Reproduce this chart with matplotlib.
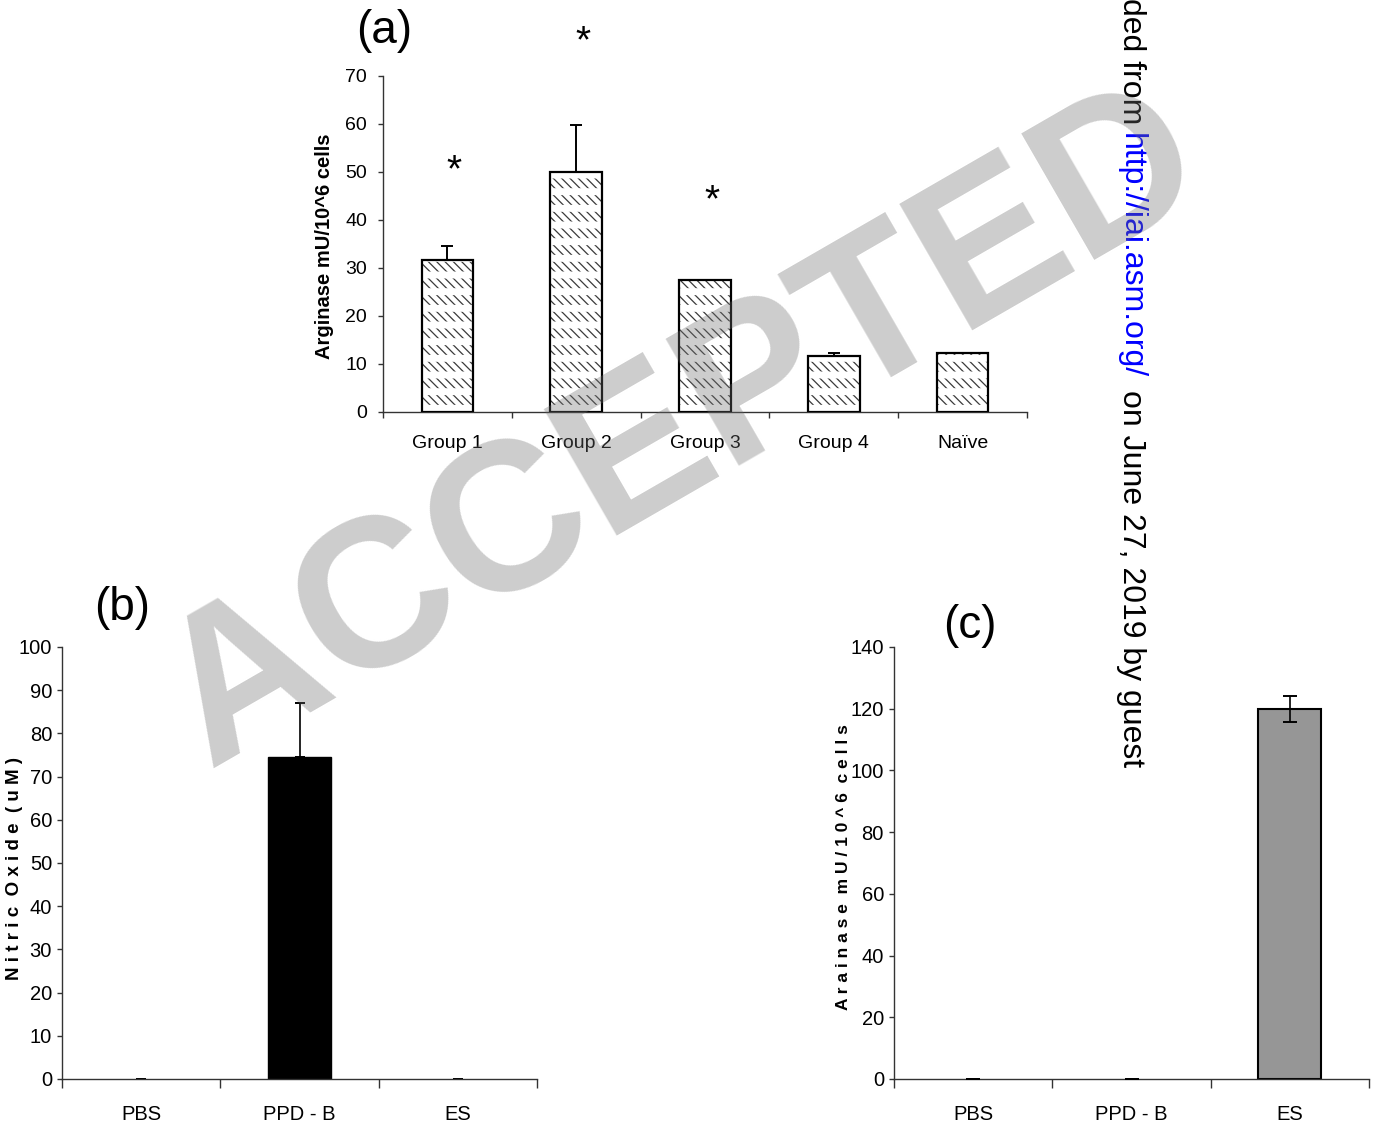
import numpy as np
import matplotlib
matplotlib.use("Agg")
import matplotlib.pyplot as plt
from matplotlib.transforms import ScaledTranslation

# ---------------- data ----------------
groups_a = ["Group 1", "Group 2", "Group 3", "Group 4", "Naïve"]
arginase_a = [31.7, 50.0, 27.4, 11.6, 12.2]
err_a = [2.9, 9.7, 0.0, 0.6, 0.1]
star_a = [52.0, 78.8, 45.6, None, None]

treat = ["PBS", "PPD - B", "ES"]
nitric_b = [0.0, 74.6, 0.0]
err_b = [0.0, 12.4, 0.0]
arginase_c = [0.0, 0.0, 120.0]
err_c = [0.0, 0.0, 4.2]

ylabel_a = "Arginase mU/10^6 cells"
ylabel_b = "N i t r i c  O x i d e  ( u M )"
ylabel_c = "A r a i n a s e  m U / 1 0 ^ 6  c e l l s"

# ---------------- figure ----------------
W, H = 1374, 1135
fig = plt.figure(figsize=(W / 100, H / 100), dpi=100)

SANS = ["Liberation Sans", "DejaVu Sans"]
NARROW = ["Liberation Sans Narrow", "Liberation Sans", "DejaVu Sans"]
AXC = "#333333"


def box(l, t, r, b):
    return [l / W, 1 - b / H, (r - l) / W, (b - t) / H]


def fx(x):
    return x / W


def fy(y):
    return 1 - y / H


def style(ax, labels, ymax, ystep, fam, tickfs, xtl, xpad, ytl, ypad):
    n = len(labels)
    for s in ["top", "right"]:
        ax.spines[s].set_visible(False)
    for s in ["left", "bottom"]:
        ax.spines[s].set_linewidth(1.0)
        ax.spines[s].set_color(AXC)
    ax.set_xlim(-0.5, n - 0.5)
    ax.set_ylim(0, ymax)
    ax.set_yticks(np.arange(0, ymax + 1, ystep))
    ax.set_xticks(np.arange(n + 1) - 0.5)
    ax.set_xticklabels([])
    ax.set_xticks(np.arange(n), minor=True)
    ax.set_xticklabels(labels, minor=True, fontfamily=fam, fontsize=tickfs)
    for t in ax.get_yticklabels():
        t.set_fontfamily(fam)
        t.set_fontsize(tickfs)
    ax.tick_params(axis="x", which="major", direction="out", length=xtl, width=1, color=AXC)
    ax.tick_params(axis="x", which="minor", length=0, pad=xpad)
    ax.tick_params(axis="y", direction="out", length=ytl, width=1, color=AXC, pad=ypad)
    ax.patch.set_alpha(0)


def hatched_bars(ax, x, h, w, hatch, color, hlw, z):
    with plt.rc_context({"hatch.linewidth": hlw, "hatch.color": color}):
        bars = ax.bar(x, h, w, fill=False, edgecolor=color, linewidth=0,
                      hatch=hatch, zorder=z)
    for p in bars:
        if hasattr(p, "set_hatch_linewidth"):
            p.set_hatch_linewidth(hlw)
        elif hasattr(p, "_hatch_linewidth"):
            p._hatch_linewidth = hlw
    return bars


# ---------------- panel (a) ----------------
ax_a = fig.add_axes(box(383, 76, 1027, 412))
xa = np.arange(len(groups_a))
bw = 0.40
ax_a.bar(xa, arginase_a, bw, facecolor="white", linewidth=0, zorder=1.5)
hatched_bars(ax_a, xa, arginase_a, bw, "\\\\\\\\", "#3a3a3a", 0.9, 2)
hatched_bars(ax_a, xa, arginase_a, bw, "-", "white", 5.0, 2.5)
ax_a.bar(xa, arginase_a, bw, fill=False, edgecolor="black", linewidth=1.6, zorder=3)
ax_a.errorbar(xa, arginase_a, yerr=[np.zeros(len(xa)), err_a], fmt="none",
              ecolor="black", elinewidth=1.4, capsize=4.5, capthick=1.4, zorder=1)
style(ax_a, groups_a, 70, 10, SANS, 14, 4.3, 16.5, 3.6, 8)

star_fs = 28
star_tr = ax_a.transData + ScaledTranslation(0.07, -0.58 * star_fs / 72 + 0.04,
                                             fig.dpi_scale_trans)
for i, s in enumerate(star_a):
    if s is not None:
        ax_a.text(xa[i], s, "*", ha="center", va="baseline", fontsize=star_fs,
                  fontfamily=SANS, transform=star_tr, clip_on=False, zorder=5)

fig.text(fx(325), fy(246), ylabel_a, rotation=90, ha="center", va="center",
         fontsize=14.5, fontweight="bold", fontfamily=SANS)
fig.text(fx(384), fy(43), "(a)", ha="center", va="baseline", fontsize=33, fontfamily=SANS)

# ---------------- panel (b) ----------------
ax_b = fig.add_axes(box(62, 647, 537, 1079))
xb = np.arange(len(treat))
ax_b.bar(xb, nitric_b, bw, color="black", edgecolor="black",
         linewidth=[1.0 if v > 0 else 0 for v in nitric_b], zorder=2)
ax_b.errorbar(xb, nitric_b, yerr=[np.zeros(len(xb)), err_b], fmt="none",
              ecolor="black", elinewidth=1.2, capsize=3.6, capthick=1.4, zorder=1)
style(ax_b, treat, 100, 10, NARROW, 14.5, 6.4, 19, 3.6, 3.6)
fig.text(fx(15), fy(868), ylabel_b, rotation=90, ha="center", va="center",
         fontsize=13.5, fontweight="bold", fontfamily=NARROW)
fig.text(fx(122), fy(620), "(b)", ha="center", va="baseline", fontsize=33, fontfamily=SANS)

# ---------------- panel (c) ----------------
ax_c = fig.add_axes(box(894, 647, 1369, 1079))
ax_c.bar(xb, arginase_c, bw, color="#969696", edgecolor="black",
         linewidth=[1.5 if v > 0 else 0 for v in arginase_c], zorder=2)
ax_c.errorbar(xb, arginase_c, yerr=err_c, fmt="none",
              ecolor="black", elinewidth=1.2, capsize=4.7, capthick=1.4, zorder=3)
style(ax_c, treat, 140, 20, NARROW, 14.5, 6.4, 19, 3.6, 3.6)
fig.text(fx(843), fy(867), ylabel_c, rotation=90, ha="center", va="center",
         fontsize=12.5, fontweight="bold", fontfamily=NARROW)
fig.text(fx(970), fy(638), "(c)", ha="center", va="baseline", fontsize=33, fontfamily=SANS)

# ---------------- side note ----------------
side_fs = 23
fig.text(fx(1123), fy(-2), "ded from ", rotation=-90, rotation_mode="anchor",
         ha="left", va="baseline", fontsize=side_fs, fontfamily=SANS, color="black")
fig.text(fx(1123), fy(133), "http://iai.asm.org/", rotation=-90, rotation_mode="anchor",
         ha="left", va="baseline", fontsize=side_fs, fontfamily=SANS, color="#0000ff")
fig.text(fx(1123), fy(390), "on June 27, 2019 by guest", rotation=-90, rotation_mode="anchor",
         ha="left", va="baseline", fontsize=side_fs, fontfamily=SANS, color="black")

# ---------------- watermark ----------------
fig.text(fx(712), fy(478), "ACCEPTED", rotation=30, rotation_mode="anchor",
         ha="center", va="baseline", fontsize=152, fontweight="bold", fontfamily=SANS,
         color=(0.43, 0.43, 0.43), alpha=0.35, zorder=10)

fig.savefig("out.png", dpi=100)
